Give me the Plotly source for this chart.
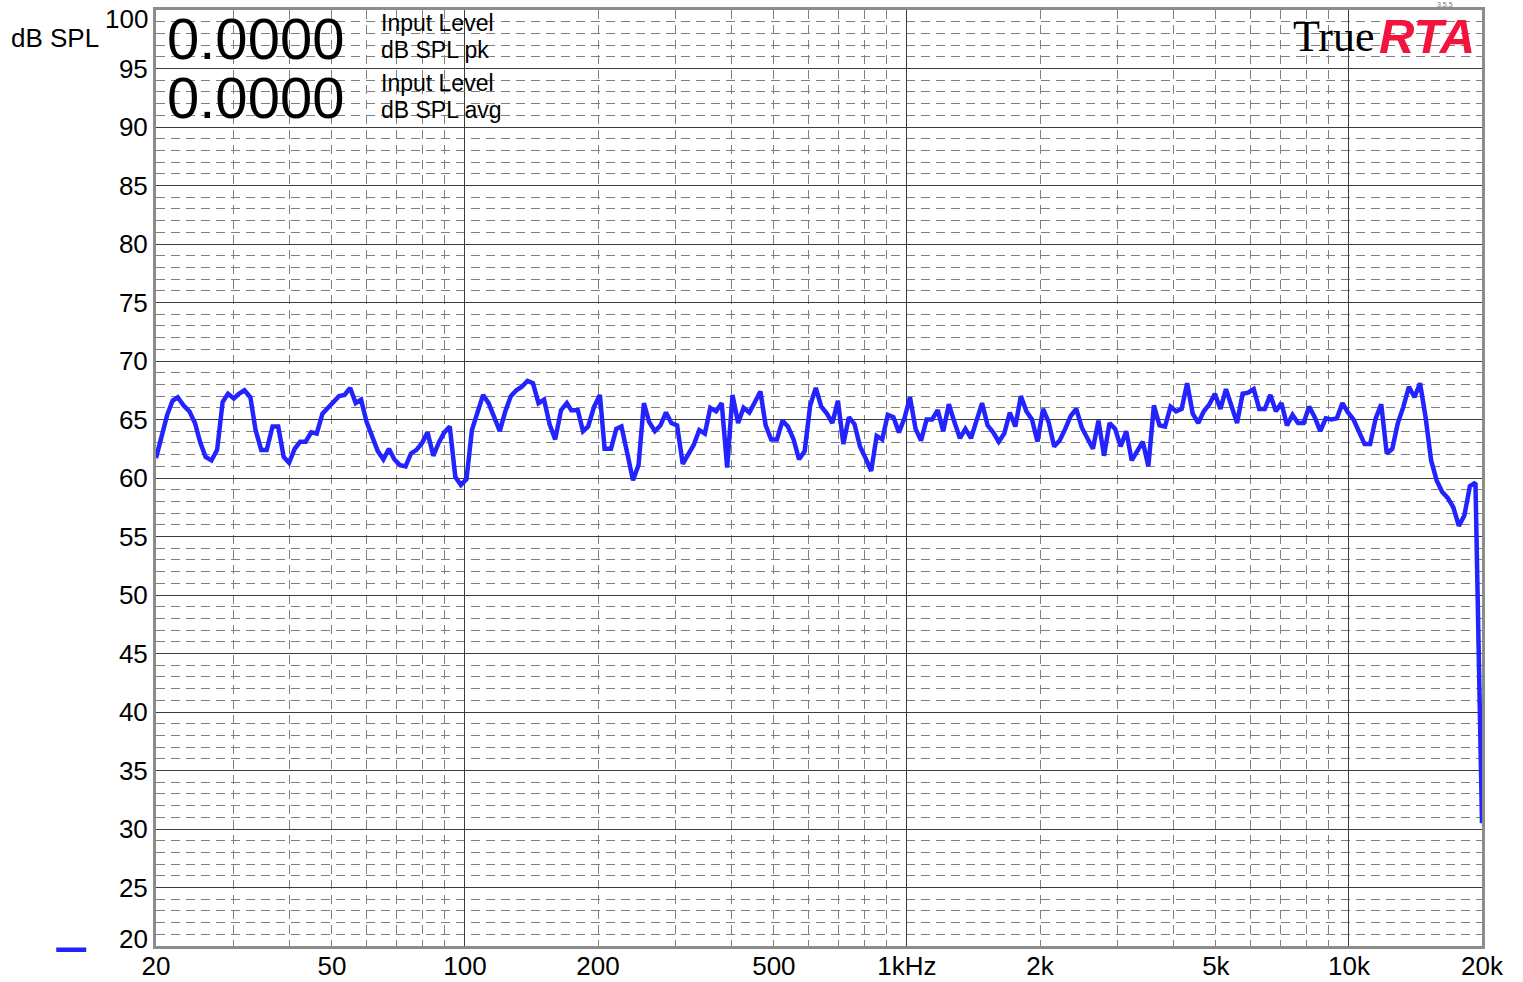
import plotly.graph_objects as go
import math

# 1/24-octave analyser bands (Hz)
freq_hz = [
    20.0, 20.6, 21.2, 21.8, 22.4, 23.1, 23.8, 24.5, 25.2, 25.9, 26.7, 27.5, 28.3, 29.1, 30.0, 30.8, 31.7, 32.7, 33.6, 34.6, 35.6, 36.7, 37.8, 38.9,
    40.0, 41.2, 42.4, 43.6, 44.9, 46.2, 47.6, 49.0, 50.4, 51.9, 53.4, 55.0, 56.6, 58.2, 59.9, 61.7, 63.5, 65.4, 67.3, 69.2, 71.3, 73.4, 75.5, 77.7,
    80.0, 82.3, 84.8, 87.2, 89.8, 92.4, 95.1, 97.9, 100.8, 103.7, 106.8, 109.9, 113.1, 116.5, 119.9, 123.4, 127.0, 130.7, 134.5, 138.5, 142.5, 146.7, 151.0, 155.4,
    160, 165, 170, 174, 180, 185, 190, 196, 202, 207, 214, 220, 226, 233, 240, 247, 254, 261, 269, 277, 285, 293, 302, 311,
    320, 329, 339, 349, 359, 370, 381, 392, 403, 415, 427, 440, 453, 466, 479, 493, 508, 523, 538, 554, 570, 587, 604, 622,
    640, 659, 678, 698, 718, 739, 761, 783, 806, 830, 854, 879, 905, 932, 959, 987, 1016, 1046, 1076, 1108, 1140, 1174, 1208, 1244,
    1280, 1318, 1356, 1396, 1437, 1479, 1522, 1567, 1613, 1660, 1709, 1759, 1810, 1863, 1918, 1974, 2032, 2091, 2153, 2216, 2281, 2347, 2416, 2487,
    2560, 2635, 2712, 2792, 2873, 2958, 3044, 3134, 3225, 3320, 3417, 3517, 3620, 3727, 3836, 3948, 4064, 4183, 4305, 4432, 4561, 4695, 4833, 4974,
    5120, 5270, 5424, 5583, 5747, 5915, 6089, 6267, 6451, 6640, 6834, 7035, 7241, 7453, 7671, 7896, 8127, 8366, 8611, 8863, 9123, 9390, 9665, 9949,
    10240, 10540, 10849, 11167, 11494, 11831, 12177, 12534, 12902, 13280, 13669, 14070, 14482, 14906, 15343, 15792, 16255, 16731, 17222, 17726, 18245, 18780, 19330, 20000,
]

# measured level (dB SPL)
level_db = [
    61.7, 63.5, 65.4, 66.6, 66.9, 66.2, 65.7, 64.7, 63.0, 61.8,
    61.5, 62.4, 66.5, 67.2, 66.8, 67.2, 67.5, 66.9, 64.1, 62.4,
    62.4, 64.4, 64.4, 61.8, 61.3, 62.5, 63.1, 63.1, 63.9, 63.8,
    65.5, 66.0, 66.5, 67.0, 67.1, 67.7, 66.4, 66.7, 64.8, 63.4,
    62.3, 61.6, 62.5, 61.6, 61.1, 61.0, 62.1, 62.4, 63.0, 63.9,
    61.9, 63.0, 63.9, 64.4, 60.1, 59.4, 59.9, 64.1, 65.5, 67.1,
    66.4, 65.2, 64.0, 65.7, 67.0, 67.5, 67.8, 68.3, 68.1, 66.4,
    66.7, 64.6, 63.3, 65.8, 66.4, 65.8, 65.8, 64.0, 64.4, 66.1,
    67.1, 62.5, 62.5, 64.2, 64.4, 62.1, 59.8, 61.1, 66.4, 64.8,
    64.0, 64.5, 65.6, 64.7, 64.5, 61.2, 62.0, 62.8, 64.1, 63.8,
    66.0, 65.7, 66.4, 60.9, 67.1, 64.7, 66.0, 65.6, 66.5, 67.4,
    64.5, 63.3, 63.3, 64.9, 64.4, 63.3, 61.6, 62.3, 66.2, 67.7,
    66.1, 65.5, 64.7, 66.6, 62.9, 65.2, 64.6, 62.7, 61.7, 60.6,
    63.6, 63.3, 65.4, 65.2, 63.9, 65.1, 66.9, 64.2, 63.2, 65.0,
    65.0, 65.8, 64.0, 66.3, 64.8, 63.4, 64.2, 63.4, 64.9, 66.4,
    64.5, 63.9, 63.1, 63.8, 65.6, 64.4, 67.0, 65.7, 65.0, 63.1,
    65.9, 64.8, 62.7, 63.2, 64.2, 65.3, 65.9, 64.3, 63.4, 62.5,
    64.9, 61.9, 64.7, 64.2, 62.7, 64.0, 61.5, 62.3, 63.1, 61.0,
    66.2, 64.5, 64.4, 66.1, 65.7, 65.9, 68.1, 65.5, 64.7, 65.7,
    66.3, 67.2, 65.9, 67.6, 66.1, 64.7, 67.2, 67.3, 67.6, 65.9,
    65.9, 67.1, 65.7, 66.4, 64.5, 65.4, 64.7, 64.7, 66.1, 65.2,
    64.0, 65.1, 65.0, 65.1, 66.4, 65.6, 65.0, 63.9, 62.9, 62.9,
    65.1, 66.3, 62.1, 62.5, 64.7, 66.1, 67.8, 66.9, 68.1, 65.2,
    61.5, 59.8, 58.8, 58.3, 57.5, 55.9, 56.8, 59.3, 59.6,
    30.5,
]

label_ticks = [20, 50, 100, 200, 500, 1000, 2000, 5000, 10000, 20000]
label_text = ["20", "50", "100", "200", "500", "1kHz", "2k", "5k", "10k", "20k"]
decade_lines = [100, 1000, 10000]
minor_x_lines = [30, 40, 50, 60, 70, 80, 90,
                 200, 300, 400, 500, 600, 700, 800, 900,
                 2000, 3000, 4000, 5000, 6000, 7000, 8000, 9000]
y_ticks = list(range(25, 96, 5))
y_end_labels = ["100", "20"]

FONT = "Liberation Sans, Arial, sans-serif"
xr = [math.log10(20), math.log10(20000)]
LINE_BLUE = "#2323ff"

fig = go.Figure()
fig.add_trace(go.Scatter(
    x=freq_hz, y=level_db, mode="lines", name=" ",
    line=dict(color=LINE_BLUE, width=4.5),
    showlegend=True, hoverinfo="x+y",
))
# same data on the labelling axis (transparent) so that axis is rendered
fig.add_trace(go.Scatter(
    x=freq_hz, y=level_db, mode="lines", xaxis="x2", yaxis="y",
    line=dict(color="rgba(0,0,0,0)", width=1),
    showlegend=False, hoverinfo="skip",
))

fig.update_layout(
    width=1523, height=982,
    margin=dict(l=156, r=41, t=10, b=36, autoexpand=False),
    paper_bgcolor="white", plot_bgcolor="white",
    font=dict(family=FONT, color="black", size=26),
    legend=dict(x=-0.079, y=-0.004, xanchor="left", yanchor="middle",
                bgcolor="rgba(0,0,0,0)", font=dict(size=4),
                itemwidth=30, tracegroupgap=0),
    xaxis=dict(
        type="log", range=xr,
        tickvals=decade_lines, showticklabels=False, ticks="",
        showgrid=True, gridcolor="#3c3c3c", gridwidth=1,
        minor=dict(tickvals=minor_x_lines, showgrid=True,
                   gridcolor="#808080", griddash="9px,6px", gridwidth=1, ticks=""),
        showline=True, linecolor="#8c8c8c", linewidth=3, mirror=True,
        zeroline=False,
    ),
    xaxis2=dict(
        type="log", range=xr, overlaying="x", anchor="y", side="bottom",
        tickvals=label_ticks, ticktext=label_text, ticks="",
        showgrid=False, showline=False, zeroline=False,
        tickfont=dict(size=26, family=FONT, color="black"),
        ticklabelstandoff=2, ticklabeloverflow="allow",
    ),
    yaxis=dict(
        range=[20, 100], tickvals=y_ticks, ticks="",
        showgrid=True, gridcolor="#3c3c3c", gridwidth=1,
        minor=dict(dtick=1, showgrid=True, gridcolor="#808080",
                   griddash="9px,6px", gridwidth=1, ticks=""),
        showline=True, linecolor="#8c8c8c", linewidth=3, mirror=True,
        zeroline=False,
        tickfont=dict(size=26, family=FONT, color="black"),
        ticklabelstandoff=0,
    ),
)

# white panels for the level readouts and the logo
fig.add_shape(type="rect", xref="paper", yref="y", x0=0, x1=0.2609, y0=90.2, y1=100,
              fillcolor="white", line=dict(width=0), layer="between")
fig.add_shape(type="rect", xref="paper", yref="y", x0=0.8507, x1=1, y0=95.2, y1=100,
              fillcolor="white", line=dict(width=0), layer="between")

H = 936.0
def py(pix):
    return (946 - pix) / H

ann = [
    dict(text="dB SPL", x=-0.0762, y=py(38), size=26, anchor="center", family=FONT, color="black"),
    dict(text=y_end_labels[0], x=-0.0045, y=py(19), size=26, anchor="right", family=FONT, color="black"),
    dict(text=y_end_labels[1], x=-0.0045, y=py(939), size=26, anchor="right", family=FONT, color="black"),
    dict(text="0.0000", x=0.0747, y=py(38), size=58, anchor="center", family=FONT, color="black"),
    dict(text="0.0000", x=0.0747, y=py(97), size=58, anchor="center", family=FONT, color="black"),
    dict(text="Input Level", x=0.168, y=py(23), size=23, anchor="left", family=FONT, color="black"),
    dict(text="dB SPL pk", x=0.168, y=py(50), size=23, anchor="left", family=FONT, color="black"),
    dict(text="Input Level", x=0.168, y=py(83), size=23, anchor="left", family=FONT, color="black"),
    dict(text="dB SPL avg", x=0.168, y=py(110), size=23, anchor="left", family=FONT, color="black"),
    dict(text="True", x=0.9205, y=py(36), size=44, anchor="right", family="Liberation Serif, Times New Roman, serif", color="black"),
    dict(text="<b><i>RTA</i></b>", x=0.9210, y=py(36), size=49, anchor="left", family=FONT, color="#f2143c"),
    dict(text="3.5.5", x=0.972, y=py(4), size=7, anchor="center", family=FONT, color="#777777"),
]
for a in ann:
    fig.add_annotation(
        text=a["text"], xref="paper", yref="paper", x=a["x"], y=a["y"],
        xanchor=a["anchor"], yanchor="middle", showarrow=False, align="left",
        font=dict(size=a["size"], family=a["family"], color=a["color"]),
    )

fig.write_html(
    "out.html",
    config={"displayModeBar": False},
    post_script="document.body.style.margin='0px';document.body.style.overflow='hidden';",
)
